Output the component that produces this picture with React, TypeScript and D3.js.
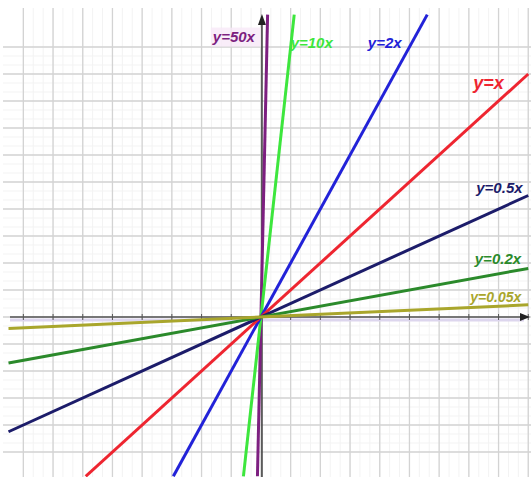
import React from "react";
import * as d3 from "d3";

// Proportional functions y = k·x
const slopes = [50, 10, 2, 1, 0.5, 0.2, 0.05];
const labels = ["y=50x", "y=10x", "y=2x", "y=x", "y=0.5x", "y=0.2x", "y=0.05x"];

// grid cell positions along x and y
const xTicks = d3.range(-8, 10);
const yTicks = d3.range(-5, 11);

const W = 531;
const H = 477;

const colors = ["#7d1f80", "#3de63d", "#2222d8", "#ee2530", "#1c1c6a", "#2b8a2b", "#a9a62c"];

// label anchor (left, baseline) in data units, and font size
const labelPos: [number, number, number][] = [
  [-1.62, 10.2, 15],
  [1.0, 9.95, 15],
  [3.6, 9.95, 15],
  [7.15, 8.45, 18],
  [7.25, 4.6, 15],
  [7.2, 1.95, 15],
  [7.05, 0.55, 14],
];

export default function App() {
  const x = d3.scaleLinear().domain([-8.5, 9]).range([8.5, 8.5 + 17.5 * 29.7]);
  const y = d3.scaleLinear().domain([-5.9, 11.2]).range([476.3, 476.3 - 17.1 * 27]);

  const minorX = d3.range(-8, 9.01, 1 / 3);
  const minorY = d3.range(-5, 10.01, 1 / 3);

  const gridLeft = 3;
  const gridTop = 8;

  const line = d3
    .line<[number, number]>()
    .x((d) => x(d[0]))
    .y((d) => y(d[1]));

  const lines = slopes.map((k) => {
    // clip the line to the visible window
    const x0 = Math.max(-8.5, -5.9 / k);
    const x1 = Math.min(9, 11.2 / k);
    const pts: [number, number][] = [
      [x0, k * x0],
      [x1, k * x1],
    ];
    return line(pts) as string;
  });

  return (
    <div style={{ position: "fixed", left: 0, top: 0 }}>
      <svg width={W} height={H} style={{ display: "block", background: "#fff" }}>
        {/* minor grid */}
        <g stroke="#f3f3f3" strokeWidth={1}>
          {minorX.map((v, i) => (
            <line key={"mx" + i} x1={x(v)} x2={x(v)} y1={gridTop} y2={H} />
          ))}
          {minorY.map((v, i) => (
            <line key={"my" + i} x1={gridLeft} x2={W} y1={y(v)} y2={y(v)} />
          ))}
        </g>
        {/* major grid */}
        <g stroke="#d3d3d3" strokeWidth={1.3}>
          {xTicks.map((v) => (
            <line key={"gx" + v} x1={x(v)} x2={x(v)} y1={gridTop} y2={H} />
          ))}
          {yTicks.map((v) => (
            <line key={"gy" + v} x1={gridLeft} x2={W} y1={y(v)} y2={y(v)} />
          ))}
        </g>

        {/* x axis */}
        <line x1={10} x2={524} y1={y(0) + 3} y2={y(0) + 3} stroke="#ddd6ee" strokeWidth={3} />
        <line x1={10} x2={524} y1={y(0)} y2={y(0)} stroke="#555" strokeWidth={1.6} />
        <g stroke="#555" strokeWidth={1}>
          {xTicks.map((v) => (
            <line key={"tx" + v} x1={x(v)} x2={x(v)} y1={y(0) - 3} y2={y(0) + 3} />
          ))}
        </g>
        <path d={`M${W - 1},${y(0)} L${W - 11},${y(0) - 4} L${W - 11},${y(0) + 4} Z`} fill="#222" />

        {/* y axis */}
        <line x1={x(0) + 1} x2={x(0) + 1} y1={H} y2={22} stroke="#444" strokeWidth={1.6} />
        <path d={`M${x(0) + 1},${14} L${x(0) - 3},${25} L${x(0) + 5},${25} Z`} fill="#222" />

        {/* function graphs */}
        <g fill="none" strokeWidth={3} strokeLinecap="butt">
          {lines.map((d, i) => (
            <path key={labels[i]} d={d} stroke={colors[i]} />
          ))}
        </g>

        {/* labels */}
        <rect x={x(-1.62) - 2} y={y(10.2) - 14} width={50} height={19} fill="#f7e9f7" opacity={0.8} />
        <g fontFamily="'Liberation Sans Narrow', 'Liberation Sans', Arial, sans-serif" fontStyle="italic" fontWeight="bold">
          {labels.map((t, i) => (
            <text
              key={t}
              x={x(labelPos[i][0])}
              y={y(labelPos[i][1])}
              fontSize={labelPos[i][2]}
              fill={colors[i]}
            >
              {t}
            </text>
          ))}
        </g>
      </svg>
    </div>
  );
}
